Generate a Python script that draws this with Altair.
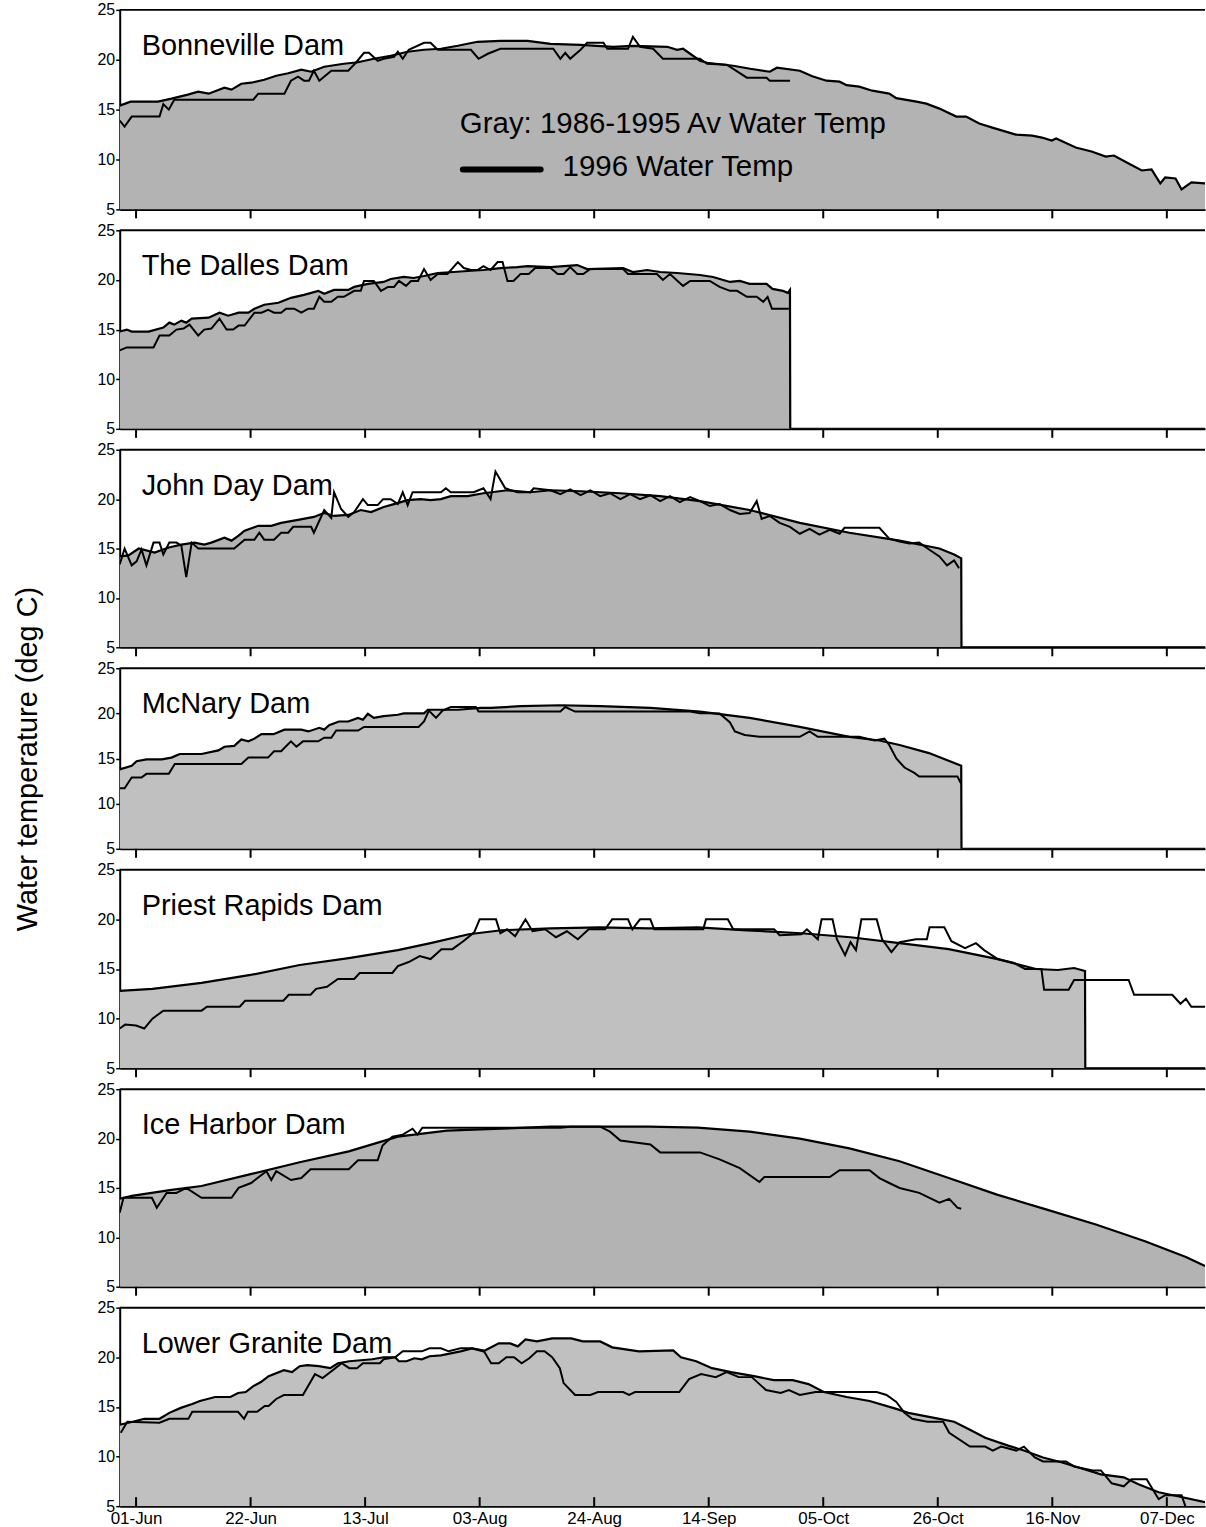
import altair as alt
import pandas as pd

DAMS = ["Bonneville Dam", "The Dalles Dam", "John Day Dam", "McNary Dam",
        "Priest Rapids Dam", "Ice Harbor Dam", "Lower Granite Dam"]
FILLS = ["#b3b3b3", "#b3b3b3", "#b3b3b3", "#c0c0c0", "#c0c0c0", "#b3b3b3", "#c0c0c0"]
HEIGHTS = [200, 199, 198, 181, 199, 198, 199]
# x = days after 29-May-1996
TICK_DAYS = [3, 24, 45, 66, 87, 108, 129, 150, 171, 192]
Y_TICKS = [5, 10, 15, 20, 25]

BON_AVG = [(0,15.4),(2,15.8),(7,15.8),(9.5,16.1),(12.5,16.5),(14.4,16.8),(16.3,16.6),(19.2,17.2),(20.5,17.0),(22.3,17.6),(24.1,17.7),(26.5,18.0),(28.7,18.4),(30.9,18.65),(33.3,19.0),(35.1,18.8),(37.5,19.3),(41.1,19.6),(43.7,19.75),(46.6,20.1),(49.7,20.4),(52.8,20.8),(55.8,21.0),(58.9,21.1),(62,21.4),(65.6,21.8),(69.8,21.9),(74.8,21.9),(79,21.6),(84.5,21.5),(90.5,21.3),(94.1,21.4),(100.4,21.3),(102.2,21.0),(103.3,21.1),(106.4,19.9),(107.7,19.7),(112.5,19.4),(115.6,19.1),(119.2,18.8),(120.5,19.2),(124.7,18.9),(127,18.35),(129.6,17.9),(132,17.8),(133.3,17.45),(135.6,17.3),(138,16.9),(141.1,16.6),(142.4,16.15),(146.1,15.8),(147.9,15.6),(150.3,15.1),(153.4,14.3),(155.2,14.3),(157.6,13.6),(160,13.2),(164.3,12.5),(167.3,12.4),(169.1,12.2),(170.9,11.9),(171.7,12.1),(175.3,11.2),(178.2,10.8),(180.8,10.3),(182.3,10.4),(185,9.6),(187.4,8.9),(189.2,9.0),(190.8,7.6),(191.7,8.2),(193.6,8.1),(194.7,7.0),(196.5,7.7),(199,7.6)]
BON_96 = [(0,13.9),(0.9,13.3),(2.2,14.3),(7.3,14.3),(8,15.55),(9,15.0),(10,16.0),(24.5,16.0),(25.4,16.6),(30.2,16.6),(31.4,17.9),(32.7,18.3),(33.8,17.9),(34.7,17.9),(35.6,18.9),(36.6,17.9),(38.8,18.9),(41.9,18.9),(43.3,19.7),(44.8,20.7),(45.7,20.7),(47.3,19.9),(48.4,20.1),(50.3,20.3),(51,20.8),(51.9,20.1),(53,21.0),(55.8,21.7),(57,21.7),(58.3,21.0),(64.4,21.0),(65.8,20.1),(67.5,20.6),(69.8,21.1),(79.5,21.1),(80.8,20.1),(81.7,20.7),(82.6,20.1),(84.5,21.0),(85.7,21.7),(88.7,21.7),(89.4,21.1),(93.2,21.1),(94.1,22.3),(95.4,21.3),(97.8,21.1),(99.6,20.1),(106.4,20.1),(107.7,19.6),(111.3,19.5),(115,18.2),(118.6,18.2),(119.2,17.9),(122.9,17.9)]

DAL_AVG = [(0,14.8),(1.3,15.0),(2.2,14.8),(5.3,14.8),(8,15.2),(9.1,15.7),(10,15.5),(11.3,15.9),(12.2,15.7),(13.2,16.1),(16.3,16.2),(18.3,16.7),(19.9,16.4),(21.8,16.7),(23.6,16.7),(24.7,17.1),(26.5,17.5),(29.1,17.7),(31.4,18.2),(33.8,18.5),(36.4,18.9),(37.5,18.6),(39.3,19.0),(41.9,19.0),(43,19.3),(45.5,19.6),(48.4,19.8),(49.7,20.1),(52.1,20.3),(53.9,20.2),(55.8,20.4),(58.3,20.7),(61.2,20.8),(63.8,20.9),(66.7,21.0),(69.8,21.2),(72.9,21.3),(74.8,21.4),(79,21.3),(83.9,21.5),(85.7,21.1),(92.3,21.2),(94.1,20.8),(96.7,21.0),(99.1,20.8),(102.2,20.7),(106.4,20.5),(108.8,20.3),(111.9,19.8),(113.7,19.9),(115.5,19.6),(118.6,19.6),(119.7,19.1),(121.6,18.9),(122.5,18.7),(122.9,19.0),(122.95,5),(199,5)]
DAL_96 = [(0,12.9),(1.3,13.2),(6.2,13.2),(7.3,14.4),(9.1,14.4),(10.4,15.0),(11.7,15.1),(12.8,15.5),(14.4,14.4),(15.5,15.0),(16.8,15.1),(18.3,16.1),(19.6,15.0),(20.8,15.0),(21.8,15.4),(22.9,15.4),(24.7,16.7),(26,16.7),(27.2,17.0),(28.3,16.7),(29.6,16.7),(30.5,17.1),(32,17.1),(33.3,16.7),(34.6,17.1),(35.6,17.1),(36.6,18.3),(37.5,17.8),(38.8,17.8),(40,18.3),(41.1,18.3),(43,18.9),(44.2,18.9),(44.8,19.9),(46.6,19.9),(47.9,18.9),(49.2,19.3),(50.3,19.3),(51.2,19.9),(52.5,19.4),(53.4,19.9),(54.7,19.9),(55.8,21.1),(57,20.0),(58.3,20.6),(60.1,20.6),(62,21.8),(63.1,21.2),(64.4,21.0),(65.6,21.0),(66.7,21.4),(68,21.0),(69.3,21.8),(70.2,21.8),(71.1,19.9),(72.2,19.9),(73.5,20.6),(75,20.6),(76.2,21.2),(79,21.2),(80.3,20.6),(81.4,20.6),(82.6,21.3),(83.9,20.6),(85,20.6),(86.3,21.1),(92.3,21.1),(93.2,20.6),(98.5,20.6),(99.6,20.0),(100.9,20.6),(103.3,19.4),(104.6,19.9),(108.2,19.9),(110,19.3),(111.9,18.9),(113.2,18.9),(115,18.3),(116.8,18.3),(118,17.8),(118.8,18.3),(119.6,17.1),(122.7,17.1)]

JDA_AVG = [(0,14.2),(1.6,14.3),(3.5,15.0),(6.4,14.6),(9,15.1),(11.3,15.4),(13.7,15.6),(15.5,15.4),(16.8,15.6),(19.2,16.1),(20.5,15.8),(21.8,16.3),(22.9,16.8),(25.4,17.3),(27.8,17.3),(29.6,17.6),(32.7,17.9),(35.6,18.2),(37.5,18.6),(39.3,18.3),(41.9,18.4),(44.2,18.9),(46.1,18.7),(48.4,19.2),(50.3,19.5),(52.8,19.9),(55.2,20.0),(57,19.9),(58.9,20.0),(60.7,20.3),(63.8,20.3),(66.7,20.6),(71.1,20.9),(75.3,20.7),(79,20.9),(84.5,20.8),(91.8,20.6),(99.1,20.3),(106.4,19.8),(115.5,18.9),(124.7,17.6),(133.8,16.6),(143,15.8),(150.3,15.0),(153,14.4),(154.3,14.0),(154.35,5),(199,5)]
JDA_96 = [(0,13.4),(0.9,15.0),(2.2,13.3),(3.1,13.7),(4,14.9),(4.9,13.3),(6.2,15.6),(7.3,15.6),(8,14.4),(9.1,15.6),(10.4,15.6),(11.3,15.3),(12.2,12.1),(13.2,15.6),(14.4,15.0),(21,15.0),(22.9,15.9),(24.7,15.9),(25.6,16.6),(26.5,15.9),(28.3,15.9),(29.6,16.6),(30.9,16.6),(31.8,17.2),(35.1,17.2),(35.6,16.6),(37.5,18.9),(38.8,18.1),(39.3,20.7),(40.6,19.0),(41.9,18.2),(43,18.7),(44.6,20.0),(45.5,19.4),(47.3,19.4),(48.3,20.0),(49.7,20.0),(51,19.5),(51.9,20.7),(52.8,19.4),(53.7,20.7),(58.9,20.7),(59.8,21.1),(60.7,20.7),(64.9,20.7),(66.7,21.1),(68,20.0),(68.9,22.8),(70.7,21.1),(72.9,20.7),(75.3,20.7),(75.9,21.1),(79,20.9),(80.8,20.5),(82.6,21.0),(84.5,20.4),(86.3,20.9),(88.1,20.3),(89.9,20.6),(91.8,20.0),(93.6,20.5),(95.4,20.0),(97.3,20.4),(99.1,19.8),(100.9,20.3),(102.7,19.7),(104.6,20.2),(106.4,19.8),(108.2,19.3),(110,19.5),(111.9,18.9),(113.7,18.5),(115.5,18.6),(116.8,19.8),(117.7,18.0),(119.2,18.3),(121,17.6),(122.9,17.2),(124.7,16.5),(126.5,17.0),(128.3,16.4),(130.2,16.9),(132,16.5),(132.9,17.1),(139.3,17.1),(141.1,16.0),(143,15.7),(144.8,15.5),(146.6,15.6),(148.4,14.9),(150.3,14.2),(151.7,13.3),(153,13.8),(153.9,13.0)]

MCN_AVG = [(0,13.8),(2.2,14.2),(3.1,14.7),(4.9,14.9),(7.7,14.9),(9.5,15.1),(11,15.5),(15,15.5),(18.1,15.9),(19.2,16.3),(21,16.4),(22.3,17.1),(23.6,16.9),(24.7,17.2),(26,17.7),(28.2,17.7),(30.2,18.2),(33.3,18.2),(34.6,18.0),(36.6,18.4),(37.5,18.2),(38.4,18.7),(40.2,19.1),(41.9,19.1),(43.7,19.5),(44.6,19.3),(45.5,19.95),(46.6,19.5),(48.4,19.7),(51,19.85),(52.1,20.0),(55.8,20.0),(56.5,20.4),(62,20.4),(66.2,20.6),(68,20.6),(73.5,20.8),(80.8,20.9),(88.1,20.8),(97.3,20.6),(106.4,20.2),(115.5,19.5),(124.7,18.5),(133.8,17.4),(139.3,17.0),(143,16.5),(148.4,15.6),(154.3,14.2),(154.35,5),(199,5)]
MCN_96 = [(0,11.7),(0.9,11.7),(2.2,12.9),(4,12.9),(4.9,13.3),(9,13.3),(10.1,14.4),(22.3,14.4),(23.6,15.1),(27.2,15.1),(28.3,15.8),(29.6,15.8),(31.4,16.9),(32.4,16.3),(33.6,16.9),(36.4,16.9),(37.5,17.3),(38.8,17.3),(39.7,18.1),(43.7,18.1),(44.8,18.5),(54.8,18.5),(55.8,19.1),(56.7,20.3),(58,19.5),(59.2,20.3),(60.7,20.7),(65.3,20.7),(65.8,20.2),(80.8,20.2),(81.7,20.7),(83.5,20.2),(104.6,20.2),(106.4,20.0),(110,20.0),(111.9,19.0),(112.8,18.0),(114.6,17.6),(117.3,17.4),(124.7,17.4),(126.5,18.0),(128,17.4),(135.6,17.4),(138.4,17.0),(140.2,17.2),(141.1,16.5),(142.4,15.0),(143.9,14.0),(145.7,13.4),(146.6,13.0),(153.6,13.0),(154.3,12.2)]

PRI_AVG = [(0,12.8),(6,13.0),(15,13.6),(24,14.4),(33,15.4),(42,16.1),(51,16.9),(57,17.6),(64,18.5),(70,18.9),(79,19.1),(88,19.2),(97,19.1),(106,19.2),(115,18.9),(125,18.6),(134,18.2),(143,17.6),(152,17.0),(161,16.0),(168,15.0),(172,14.9),(175,15.1),(177,14.8),(177.05,5),(199,5)]
PRI_96 = [(0,9.0),(1,9.4),(3,9.3),(4.5,9.0),(6,10.0),(8,10.8),(15,10.8),(16,11.2),(22,11.2),(23,11.8),(30,11.8),(31,12.4),(35,12.4),(36,13.0),(38,13.2),(40,14.0),(43,14.0),(44,14.6),(50,14.6),(51,15.3),(53,15.7),(55,16.3),(57,16.0),(59,17.0),(61,17.0),(63,17.8),(65,18.7),(66,20.0),(69,20.0),(69.8,18.6),(71,19.0),(72.5,18.3),(74.4,20.0),(75.7,18.8),(78,19.0),(80,18.2),(82,18.8),(84,18.0),(86,19.0),(89,19.0),(90.3,20.0),(93.2,20.0),(94,19.0),(95.4,20.0),(97.3,20.0),(98,19.0),(107,19.0),(107.5,20.0),(111.5,20.0),(112.5,19.0),(120,19.0),(121,18.4),(125,18.5),(126,19.0),(128,18.0),(128.7,20.0),(130.7,20.0),(131.5,18.0),(133,16.4),(134,17.7),(135,16.9),(136,20.0),(138.8,20.0),(139.8,18.0),(141.5,16.7),(143,17.7),(146,18.0),(148,18.0),(148.5,19.2),(151.2,19.2),(152.5,17.8),(155,17.1),(157,17.6),(158.5,16.9),(161,16.0),(164,15.6),(166,15.0),(169,15.0),(169.5,12.9),(174,12.9),(175,13.9),(185,13.9),(186,12.4),(193,12.4),(194.5,11.5),(195.5,12.0),(196.5,11.2),(199,11.2)]

ICE_AVG = [(0,13.9),(2.2,14.2),(9.5,14.8),(15,15.2),(24,16.4),(33,17.6),(42,18.7),(51,20.2),(60,20.8),(70,21.0),(79,21.2),(88,21.2),(97,21.2),(106,21.1),(115.5,20.7),(124.7,20.0),(133.8,19.0),(143,17.7),(152,16.0),(161,14.3),(170,12.8),(179,11.3),(188,9.6),(195.5,8.0),(199,7.1)]
ICE_96 = [(0,12.5),(0.7,14.0),(5.9,14.0),(6.8,13.0),(8.6,14.5),(10.4,14.5),(12.2,15.0),(15,14.0),(20.5,14.0),(21.8,15.0),(24.1,15.5),(26.9,16.7),(27.8,15.8),(28.7,16.7),(31.4,15.8),(33.3,16.0),(35,16.9),(42,16.9),(43.7,17.8),(47.3,17.8),(48.2,19.3),(50,20.2),(51.9,20.4),(53.7,21.0),(54.6,20.4),(55.5,21.1),(80.8,21.1),(82.6,21.2),(88.1,21.2),(89.9,20.7),(91.8,19.8),(97.3,19.4),(99.1,18.6),(106.4,18.6),(110,17.9),(113.7,17.0),(117.3,15.6),(118.2,16.1),(130.2,16.1),(132,16.8),(137.5,16.8),(139.3,16.0),(141.1,15.5),(143,15.0),(146.6,14.5),(150.3,13.5),(152.1,13.9),(153.6,13.0),(154.3,12.9)]

LGR_AVG = [(0,13.2),(2.4,13.5),(4.5,13.8),(7.3,13.8),(9.1,14.4),(11.2,14.9),(13.3,15.3),(14.7,15.6),(17.5,16.0),(20.3,16.0),(21.7,16.4),(23.1,16.5),(24.5,17.1),(25.9,17.5),(27.3,18.1),(30.1,18.7),(31.6,18.5),(33,19.1),(34.4,19.2),(36.5,19.1),(38.6,18.9),(40,19.4),(42.1,19.6),(44.2,19.7),(46.3,19.8),(48.4,20.0),(50.5,20.0),(51.2,19.6),(52.6,19.6),(54,19.9),(55.4,19.8),(56.8,20.1),(58.9,20.2),(60.7,20.4),(62.5,20.6),(64.6,20.9),(66.7,20.6),(69.5,21.4),(71.6,21.4),(73,21.1),(74.4,21.8),(76.5,21.6),(79.3,21.9),(82.8,21.9),(84.9,21.6),(88.1,21.6),(90.3,21.0),(95.2,20.6),(101.5,20.7),(102.9,20.0),(105.7,19.6),(108.6,18.9),(112.1,18.5),(116.3,18.1),(119.9,17.7),(123.4,17.7),(126.3,17.3),(129.1,16.5),(133.3,16.0),(137.5,15.6),(142.4,14.8),(144.6,14.4),(150.3,13.8),(153,13.5),(155.9,12.7),(158.7,11.9),(162.9,11.1),(165.8,10.6),(169.3,9.9),(172.8,9.4),(176.4,8.8),(179.9,8.2),(184.1,7.9),(186.8,7.2),(190.5,6.4),(194,6.0),(199,5.4)]
LGR_96 = [(0.2,12.4),(1.4,13.5),(7.3,13.4),(9.1,13.8),(12.6,13.8),(13.3,14.5),(21.7,14.5),(22.8,13.8),(23.5,14.5),(25.2,14.5),(26.6,15.1),(27.3,15.1),(28.7,15.8),(30.1,16.2),(33.6,16.2),(35.8,18.3),(37.2,17.9),(39.3,18.8),(40.7,19.4),(42.1,18.9),(43.5,18.9),(44.6,19.4),(47.7,19.4),(48.4,19.8),(50.5,20.0),(51.9,20.6),(55.4,20.6),(56.8,20.9),(58.9,20.9),(60.3,20.6),(62.5,20.9),(64.6,20.9),(66.7,20.7),(68.1,19.4),(69.5,19.4),(70.9,20.0),(72.3,20.0),(73.7,19.4),(75.1,19.9),(76.5,20.6),(77.9,20.6),(79.3,20.0),(80.7,18.9),(81.4,17.4),(83.5,16.2),(86.3,16.2),(87.7,16.5),(92.3,16.5),(93.4,16.2),(94.5,16.5),(102.6,16.5),(104.4,17.8),(106.6,18.3),(109.3,18.0),(111.3,18.5),(113.5,18.0),(115.9,18.0),(118.5,16.7),(121.2,16.4),(122.7,16.7),(124.7,16.2),(127.6,16.5),(138.8,16.5),(140.6,16.2),(142.4,15.5),(143.9,14.4),(145.3,13.8),(148.1,13.5),(151,13.5),(152.1,12.4),(155.9,11.0),(158.7,11.0),(160.1,10.6),(161.6,11.0),(164.4,10.6),(165.8,11.0),(167.8,9.9),(169.3,9.5),(173.5,9.5),(175,9.0),(178.4,8.6),(179.9,8.6),(181.9,7.3),(184.1,7.0),(185.5,7.7),(188.3,7.7),(190.5,5.7),(191.7,6.1),(194.7,6.1),(195.4,5.0)]

SERIES = [(BON_AVG, BON_96), (DAL_AVG, DAL_96), (JDA_AVG, JDA_96), (MCN_AVG, MCN_96),
          (PRI_AVG, PRI_96), (ICE_AVG, ICE_96), (LGR_AVG, LGR_96)]

FONT = "Liberation Sans"
BIG = 29
LEGEND = 29.5
LABEL_EXPR = "timeFormat(datetime(1996, 4, 29 + datum.value), '%d-%b')"


def to_df(pairs):
    return pd.DataFrame({"day": [p[0] for p in pairs], "temp": [p[1] for p in pairs],
                         "i": list(range(len(pairs)))})


def panel(k):
    H = HEIGHTS[k]
    last = k == len(DAMS) - 1
    avg_pairs, y96_pairs = SERIES[k]
    xaxis = alt.Axis(values=TICK_DAYS, labels=last, labelExpr=LABEL_EXPR, ticks=False, tickSize=0,
                     labelPadding=4, labelFontSize=17, labelFont=FONT, labelColor="black",
                     domainColor="black", domainWidth=2, grid=False, title=None)
    yargs = dict(values=Y_TICKS, tickSize=4, tickWidth=1.5, tickColor="black", labelPadding=1,
                 labelFontSize=16, labelFont=FONT, labelColor="black", domainColor="black",
                 domainWidth=2, grid=False)
    if k == 3:
        yaxis = alt.Axis(title="Water temperature (deg C)", titleFont=FONT, titleFontSize=BIG,
                         titleFontWeight="normal", titleColor="black", titleX=-77, titleY=H / 2,
                         titleAngle=-90, titleAlign="center", titleBaseline="bottom", **yargs)
    else:
        yaxis = alt.Axis(title=None, **yargs)
    x = alt.X("day:Q", scale=alt.Scale(domain=[0, 199], nice=False, zero=False), axis=xaxis)
    yscale = alt.Scale(domain=[5, 25], nice=False, zero=False)
    y = alt.Y("temp:Q", scale=yscale, axis=yaxis, stack=None)

    avg = to_df(avg_pairs)
    y96 = to_df(y96_pairs)
    area = alt.Chart(avg).mark_area(color=FILLS[k], opacity=1, clip=True).encode(x=x, y=y)
    avg_line = alt.Chart(avg).mark_line(color="black", strokeWidth=2.2, clip=True).encode(
        x=x, y=y, order="i:Q")
    line96 = alt.Chart(y96).mark_line(color="black", strokeWidth=2.0, clip=True).encode(
        x=x, y=y, order="i:Q")
    one = pd.DataFrame({"a": [0]})
    top = alt.Chart(one).mark_rule(color="black", strokeWidth=2).encode(y=alt.value(0))
    tick_df = pd.DataFrame({"day": TICK_DAYS})
    if last:
        ticks = alt.Chart(tick_df).mark_rule(color="black", strokeWidth=2).encode(
            x=x, y=alt.value(H - 9), y2=alt.value(H))
    else:
        ticks = alt.Chart(tick_df).mark_rule(color="black", strokeWidth=2).encode(
            x=x, y=alt.value(H), y2=alt.value(H + 9))
    name = alt.Chart(one).mark_text(
        text=DAMS[k], align="left", baseline="middle", fontSize=BIG, font=FONT, color="black"
    ).encode(x=alt.value(22), y=alt.value(36))
    layers = [area, avg_line, line96, top, ticks, name]
    if k == 0:
        layers.append(alt.Chart(one).mark_text(
            text="Gray: 1986-1995 Av Water Temp", align="left", baseline="middle", fontSize=LEGEND,
            font=FONT, color="black").encode(x=alt.value(341), y=alt.value(114)))
        layers.append(alt.Chart(one).mark_rule(color="black", strokeWidth=6, strokeCap="round").encode(
            x=alt.value(344), x2=alt.value(422), y=alt.value(160)))
        layers.append(alt.Chart(one).mark_text(
            text="1996 Water Temp", align="left", baseline="middle", fontSize=LEGEND,
            font=FONT, color="black").encode(x=alt.value(444), y=alt.value(158)))
    return alt.layer(*layers).properties(width=1088, height=H)


chart = alt.vconcat(*[panel(k) for k in range(len(DAMS))], spacing=21).properties(
    padding={"left": 13, "top": 0, "right": 0, "bottom": 0}, bounds="flush"
).configure_view(stroke=None)

chart.save("out.html", embed_options={"renderer": "svg", "actions": False})
